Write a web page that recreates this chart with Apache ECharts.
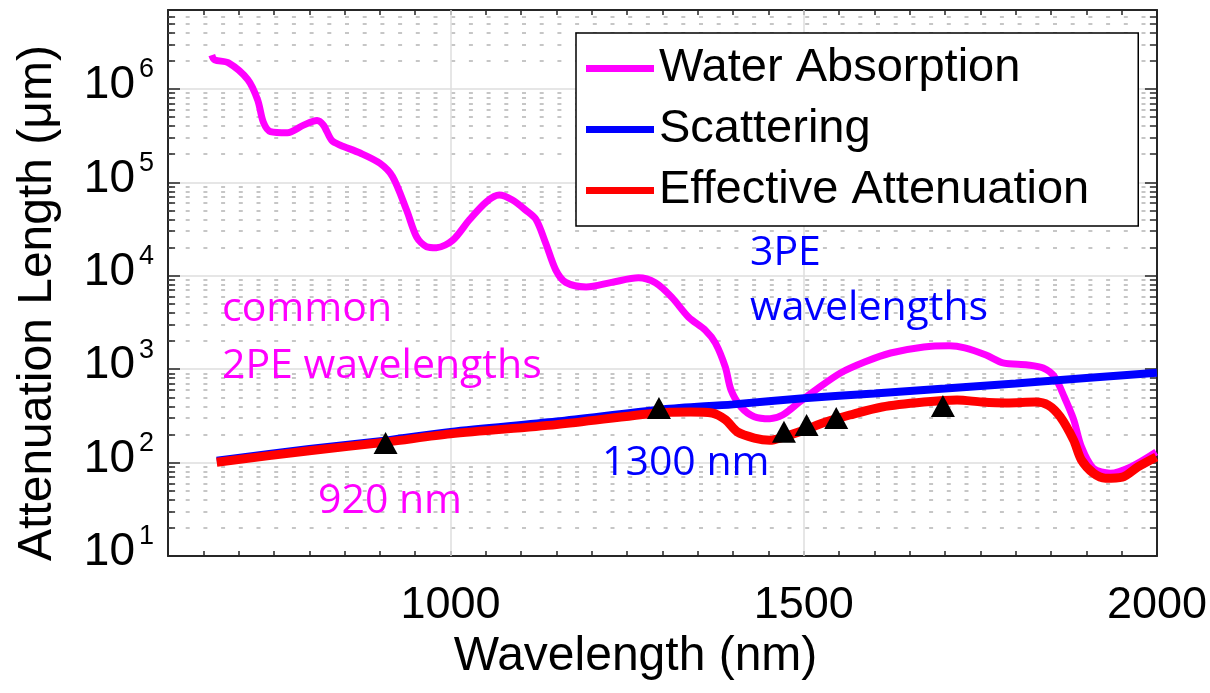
<!DOCTYPE html>
<html>
<head>
<meta charset="utf-8">
<title>Attenuation length vs wavelength</title>
<script src="https://cdn.jsdelivr.net/npm/echarts@6/dist/echarts.min.js"></script>
<style>
  html, body { margin: 0; padding: 0; background: #fff; }
  #chart { width: 1210px; height: 693px; }
</style>
</head>
<body>
<div id="chart"></div>
<script>
// water absorption length (um)
const waterNm = [662, 666, 686, 713, 727, 735, 745, 769, 792, 811, 820, 832, 844, 872, 900, 918,
  938, 952, 966, 980, 1003, 1027, 1051, 1069, 1087, 1107, 1121, 1135, 1149, 1163, 1192, 1228,
  1266, 1290, 1313, 1337, 1361, 1375, 1389, 1397, 1411, 1430, 1452, 1470, 1494, 1517, 1552,
  1587, 1623, 1670, 1706, 1728, 1758, 1782, 1817, 1839, 1855, 1869, 1882, 1893, 1910, 1934,
  1963, 1999]
const waterLen = [2.3e6, 2.05e6, 1.9e6, 1.26e6, 7.6e5, 4.4e5, 3.5e5, 3.4e5, 4.1e5, 4.6e5, 4.1e5,
  2.8e5, 2.5e5, 2.06e5, 1.6e5, 1.15e5, 5.0e4, 2.6e4, 2.05e4, 2.0e4, 2.4e4, 4.0e4, 6.2e4, 7.3e4,
  6.5e4, 5.0e4, 4.0e4, 2.2e4, 1.15e4, 8.5e3, 7.6e3, 8.5e3, 9.5e3, 8.4e3, 5.9e3, 3.6e3, 2.6e3,
  1.9e3, 1.05e3, 600, 395, 310, 295, 323, 445, 600, 910, 1200, 1490, 1730, 1780, 1690, 1420,
  1170, 1110, 1030, 830, 500, 290, 148, 87, 77, 90, 130]

// scattering length (um)
const scatNm = [669, 800, 910, 1000, 1150, 1300, 1400, 1500, 1600, 1700, 1800, 1900, 2000]
const scatLen = [105, 140, 173, 213, 275, 370, 420, 489, 550, 620, 703, 804, 918]

// effective attenuation length (um)
const effNm = [669, 800, 910, 1000, 1150, 1293, 1340, 1370, 1389, 1406, 1430, 1452, 1470, 1500,
  1530, 1565, 1611, 1670, 1717, 1752, 1787, 1828, 1846, 1863, 1882, 1893, 1910, 1927, 1951,
  1973, 1999]
const effLen = [101, 134, 166, 203, 255, 340, 348, 340, 288, 213, 183, 173, 186, 222, 270, 323,
  394, 445, 468, 445, 435, 445, 413, 310, 174, 107, 77, 68, 70, 90, 115]

// excitation wavelengths marked with triangles
const markNm = [908, 1295, 1472, 1504, 1546, 1697]
const markLen = [162, 385, 214, 252, 300, 403]

const xMin = 600
const xMax = 2000
const yMin = 10
const yMax = 7e6
const xMajor = [1000, 1500]

// minor log grid values 2..9 x 10^k
const minorY = []
for (let d = 10; d < yMax; d *= 10) {
  for (let m = 2; m <= 9; m++) {
    if (m * d < yMax) minorY.push(m * d)
  }
}

const axisFont = 'Liberation Sans'
const noteFont = 'Open Sans'
const frame = '#262626'

function pairs(xs, ys) {
  return xs.map((x, i) => [x, ys[i]])
}

const minorLines = []
minorY.forEach(v => {
  minorLines.push({ yAxis: v })
  minorLines.push([{ coord: [xMin, v], lineStyle: { type: 'solid', color: frame, width: 1.5 } },
    { coord: [xMin + 10, v] }])
  minorLines.push([{ coord: [xMax - 10, v], lineStyle: { type: 'solid', color: frame, width: 1.5 } },
    { coord: [xMax, v] }])
})

function note(text, x, y, color) {
  return {
    type: 'text', x: x, y: y, z: 20,
    style: {
      text: text, fill: color, font: '41px "' + noteFont + '"',
      align: 'left', verticalAlign: 'middle', textAlign: 'left', textVerticalAlign: 'middle'
    }
  }
}

const chart = echarts.init(document.getElementById('chart'))
chart.setOption({
  animation: false,
  backgroundColor: '#fff',
  grid: { left: 168, right: 50, top: 10, bottom: 137 },
  legend: {
    orient: 'vertical',
    left: 576,
    top: 33,
    padding: [12, 49, 12, 10],
    itemWidth: 68,
    itemHeight: 7,
    itemGap: 14,
    icon: 'rect',
    backgroundColor: '#fff',
    borderColor: '#000',
    borderWidth: 1.5,
    borderRadius: 0,
    textStyle: { fontFamily: axisFont, fontSize: 47, lineHeight: 46, color: '#000' },
    data: ['Water Absorption', 'Scattering', 'Effective Attenuation']
  },
  xAxis: [{
    type: 'value',
    min: xMin,
    max: xMax,
    interval: 50,
    name: 'Wavelength (nm)',
    nameLocation: 'middle',
    nameGap: 72,
    nameTextStyle: { fontFamily: axisFont, fontSize: 48, color: '#000', padding: [0, 54, 0, 0] },
    axisLine: { onZero: false, lineStyle: { color: frame, width: 2 } },
    axisTick: { inside: true, length: 5, lineStyle: { color: frame, width: 1.5 } },
    axisLabel: {
      margin: 27,
      fontFamily: axisFont,
      fontSize: 45,
      color: '#000',
      formatter: v => (v % 500 === 0 && v > xMin ? String(v) : '')
    },
    splitLine: { show: false }
  }, {
    type: 'value',
    position: 'top',
    min: xMin,
    max: xMax,
    interval: 50,
    axisLine: { onZero: false, lineStyle: { color: frame, width: 2 } },
    axisTick: { inside: true, length: 5, lineStyle: { color: frame, width: 1.5 } },
    axisLabel: { show: false },
    splitLine: { show: false }
  }],
  yAxis: [{
    type: 'log',
    logBase: 10,
    min: yMin,
    max: yMax,
    name: 'Attenuation Length (μm)',
    nameLocation: 'middle',
    nameRotate: 90,
    nameGap: 106,
    nameTextStyle: { fontFamily: axisFont, fontSize: 48, color: '#000', padding: [0, 40, 0, 0] },
    axisLine: { onZero: false, lineStyle: { color: frame, width: 2 } },
    axisTick: { inside: true, length: 12, lineStyle: { color: frame, width: 1.5 } },
    axisLabel: {
      margin: 14,
      formatter: v => {
        const e = Math.round(Math.log10(v))
        if (Math.abs(Math.log10(v) - e) > 1e-6) return ''
        return '{b|10}{s|' + e + '}'
      },
      rich: {
        b: { fontFamily: axisFont, fontSize: 46, lineHeight: 50, color: '#000', padding: [0, 0, 7, 0] },
        s: { fontFamily: axisFont, fontSize: 27, lineHeight: 20, color: '#000', padding: [0, 0, 38, 4] }
      }
    },
    splitLine: { show: true, lineStyle: { color: '#dedede', width: 1.5 } }
  }, {
    type: 'log',
    logBase: 10,
    min: yMin,
    max: yMax,
    position: 'right',
    axisLine: { onZero: false, lineStyle: { color: frame, width: 2 } },
    axisTick: { inside: true, length: 12, lineStyle: { color: frame, width: 1.5 } },
    axisLabel: { show: false },
    splitLine: { show: false }
  }],
  graphic: [
    note('common', 222, 309, '#ff00ff'),
    note('2PE wavelengths', 222, 366, '#ff00ff'),
    note('920 nm', 318, 501, '#ff00ff'),
    note('3PE', 750, 253, '#0000ff'),
    note('wavelengths', 750, 308, '#0000ff'),
    note('1300 nm', 602, 463, '#0000ff')
  ],
  series: [
    {
      name: 'minor grid',
      type: 'line',
      data: [],
      silent: true,
      markLine: {
        silent: true,
        z: 1,
        symbol: 'none',
        label: { show: false },
        lineStyle: { type: [4, 13.7], color: '#b4b4b4', width: 1.5 },
        data: minorLines
      }
    },
    {
      name: 'major grid',
      type: 'line',
      data: [],
      silent: true,
      markLine: {
        silent: true,
        z: 1,
        symbol: 'none',
        label: { show: false },
        lineStyle: { type: 'solid', color: '#dedede', width: 1.5 },
        data: xMajor.map(v => ({ xAxis: v }))
      }
    },
    {
      name: 'Water Absorption',
      type: 'line',
      data: pairs(waterNm, waterLen),
      smooth: 0.3,
      showSymbol: false,
      symbol: 'none',
      color: '#ff00ff',
      lineStyle: { width: 7, color: '#ff00ff' }
    },
    {
      name: 'Scattering',
      type: 'line',
      data: pairs(scatNm, scatLen),
      smooth: 0.3,
      showSymbol: false,
      symbol: 'none',
      color: '#0000ff',
      lineStyle: { width: 8, color: '#0000ff' }
    },
    {
      name: 'Effective Attenuation',
      type: 'line',
      data: pairs(effNm, effLen),
      smooth: 0.3,
      showSymbol: false,
      symbol: 'none',
      color: '#ff0000',
      lineStyle: { width: 9, color: '#ff0000' }
    },
    {
      name: 'marks',
      type: 'scatter',
      data: pairs(markNm, markLen),
      symbol: 'triangle',
      symbolSize: [24, 22],
      itemStyle: { color: '#000', opacity: 1 },
      z: 10
    }
  ]
})
</script>
</body>
</html>
